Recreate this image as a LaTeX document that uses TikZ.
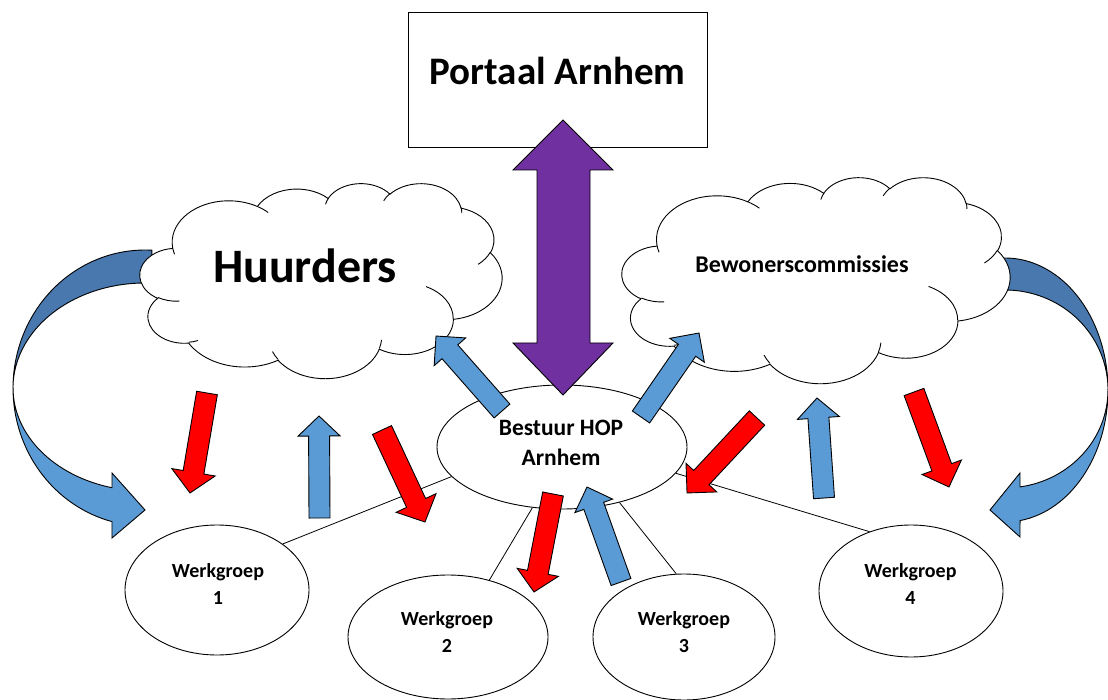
\documentclass[tikz,border=0pt]{standalone}
\usepackage{fontspec}
\setmainfont{Carlito}
\usetikzlibrary{shapes.geometric}
\definecolor{arrred}{HTML}{FF0000}
\definecolor{arrblue}{HTML}{5B9BD5}
\definecolor{arrdark}{HTML}{4878AE}
\definecolor{arrpurple}{HTML}{7030A0}
\newcommand{\blockarr}[8]{%
  \pgfmathsetmacro\BAdx{(#3)-(#1)}%
  \pgfmathsetmacro\BAdy{(#4)-(#2)}%
  \pgfmathsetmacro\BAlen{veclen(\BAdx,\BAdy)}%
  \pgfmathsetmacro\BAang{atan2(-\BAdy,\BAdx)}%
  \pgfmathsetmacro\BAsh{\BAlen-(#7)}%
  \pgfmathsetmacro\BAsw{(#5)/2}%
  \pgfmathsetmacro\BAhw{(#6)/2}%
  \begin{scope}[shift={(#1,#2)},rotate=\BAang]
    \draw[blockline,fill=#8] (0,-\BAsw) -- (\BAsh,-\BAsw) -- (\BAsh,-\BAhw) -- (\BAlen,0) -- (\BAsh,\BAhw) -- (\BAsh,\BAsw) -- (0,\BAsw) -- cycle;
  \end{scope}}
% elliptical arc given by visual start angle and sweep (degrees)
\newcommand\ooarc[4]{%
 \pgfextra{%
  \pgfmathsetmacro\OAa{atan2((#1)*sin(#3),(#2)*cos(#3))}%
  \pgfmathsetmacro\OAe{(#3)+(#4)}%
  \pgfmathsetmacro\OAb{atan2((#1)*sin(\OAe),(#2)*cos(\OAe))}%
  \pgfmathsetmacro\OAb{((#4)>0)*((\OAb<\OAa)*360)+((#4)<0)*((\OAb>\OAa)*(-360))+\OAb}%
 }arc[start angle=\OAa,end angle=\OAb,x radius=#1,y radius=#2]}
% cloud outline in a 432 x 432 box
\newcommand\cloudshape[4]{% x0 y0 w h
 \begin{scope}[shift={(#1,#2)},xscale=#3/432,yscale=#4/432]
  \draw[cloudline,fill=white] (39.00,143.70)
    \ooarc{67.53}{91.90}{-190.4875}{123.7805}
    \ooarc{53.33}{72.67}{-144.1024}{89.9452}
    \ooarc{43.65}{59.45}{-145.8079}{99.7230}
    \ooarc{48.57}{65.95}{-130.9861}{117.2417}
    \ooarc{53.33}{72.73}{-78.7089}{109.0269}
    \ooarc{67.75}{92.20}{-46.2673}{130.2690}
    \ooarc{57.85}{78.67}{0.6250}{114.0333}
    \ooarc{67.52}{92.15}{22.4516}{115.1726}
    \ooarc{77.20}{105.43}{66.2426}{75.7110}
    \ooarc{43.60}{59.18}{-274.9421}{146.7356}
    \ooarc{43.45}{59.45}{-246.8285}{152.5189} -- cycle;
  \draw[cloudline]
    (46.93,261.77) \ooarc{43.45}{59.45}{86.7420}{26.4295}
    (69.28,348.99) \ooarc{43.60}{59.18}{73.6105}{11.4475}
    (164.78,390.90) \ooarc{67.52}{92.15}{137.6242}{14.0811}
    (288.27,347.51) \ooarc{67.52}{92.15}{6.4533}{15.9984}
    (341.29,229.54) \ooarc{57.85}{78.67}{-70.2924}{70.9174}
    (417.98,153.54) \ooarc{53.33}{72.73}{30.3180}{27.7515}
    (383.24,54.26) \ooarc{48.57}{65.95}{-13.7443}{14.8589}
    (290.78,39.52) \ooarc{48.57}{65.95}{-149.1815}{18.1954}
    (221.41,47.20) \ooarc{43.65}{59.45}{-163.4943}{17.6864}
    (140.00,51.92) \ooarc{67.53}{91.90}{-66.7070}{12.3194}
    (41.27,157.89) \ooarc{67.53}{91.90}{157.6544}{11.8582};
 \end{scope}}
\begin{document}
\begin{tikzpicture}[x=1pt,y=-1pt,
  blockline/.style={draw=black,line width=0.9pt,line join=miter},
  cloudline/.style={draw=black,line width=0.9pt},
  oval/.style={ellipse,draw=black,fill=white,line width=0.9pt,inner sep=0pt},
  conn/.style={draw=black,line width=0.8pt},
  wgtext/.style={font=\bfseries\fontsize{20}{27}\selectfont,align=center},
]
\useasboundingbox (0,0) rectangle (1108,700);

% curved arrows (left)
\draw[blockline,fill=arrdark] (145,388) ++(273:132 and 138) arc[start angle=273,end angle=180,x radius=132,y radius=138] arc[start angle=180,end angle=273,x radius=132,y radius=105] -- cycle;
\draw[blockline,fill=arrblue] (13,388) arc[start angle=180,end angle=104.5,x radius=132,y radius=138] -- (112,538) -- (145,510) -- (112,473) -- (112,487.7) arc[start angle=104.5,end angle=180,x radius=132,y radius=103] -- cycle;
% curved arrows (right)
\draw[blockline,fill=arrdark] (1005,390) ++(267:103 and 132) arc[start angle=267,end angle=360,x radius=103,y radius=132] arc[start angle=0,end angle=-93,x radius=103,y radius=100] -- cycle;
\draw[blockline,fill=arrblue] (1108,390) arc[start angle=0,end angle=81.6,x radius=103,y radius=132] -- (1020,537) -- (990,510) -- (1020,473) -- (1020,486.9) arc[start angle=81.6,end angle=0,x radius=103,y radius=98] -- cycle;

% clouds
\cloudshape{140}{183}{362}{195}
\node[font=\bfseries\fontsize{48}{52}\selectfont] (hut) at (305,266) {Huurders};
\cloudshape{622}{177}{388}{206}
\node[font=\bfseries\fontsize{24}{28}\selectfont] (bct) at (802,264) {Bewonerscommissies};

% Portaal box
\node[draw=black,fill=white,line width=0.9pt,minimum width=299pt,minimum height=135pt,inner sep=0pt,
      font=\bfseries\fontsize{39}{44}\selectfont,text height=25pt,text depth=15pt] (pa) at (557.5,79.5) {Portaal Arnhem};

% ovals
\node[oval,minimum width=250pt,minimum height=124pt] (best) at (562,447) {};
\node[oval,minimum width=184pt,minimum height=130pt] (w1) at (217,590) {};
\node[oval,minimum width=200pt,minimum height=124pt] (w2) at (448,637) {};
\node[oval,minimum width=182pt,minimum height=126pt] (w3) at (684,637) {};
\node[oval,minimum width=184pt,minimum height=132pt] (w4) at (911,591) {};

% connectors
\draw[conn] (best.195.5) -- (w1.35);
\draw[conn] (best.244.5) -- (w2.54.6);
\draw[conn] (best.316.4) -- (w3.97);
\draw[conn] (best.347.3) -- (w4.125);

% texts in ovals
\node[font=\bfseries\fontsize{23.5}{30}\selectfont,align=center] (bestt) at (561,443) {Bestuur HOP\\Arnhem};
\node[wgtext] (w1t) at (218,583.5) {Werkgroep\\1};
\node[wgtext] (w2t) at (447,631.5) {Werkgroep\\2};
\node[wgtext] (w3t) at (684,632) {Werkgroep\\3};
\node[wgtext] (w4t) at (910.5,584) {Werkgroep\\4};

% purple double arrow
\draw[blockline,fill=arrpurple] (563,120) -- (613,170) -- (590,170) -- (590,343) -- (613,343) -- (563,395) -- (513,343) -- (537,343) -- (537,170) -- (513,170) -- cycle;

% red arrows
\blockarr{207}{393}{190}{493}{21}{44}{21}{arrred}
\blockarr{382}{430}{425}{522}{21}{44}{21}{arrred}
\blockarr{553}{494}{534}{592}{21}{42}{20}{arrred}
\blockarr{757}{418}{687}{493}{21}{42}{21}{arrred}
\blockarr{914}{392}{949}{487}{21}{42}{21}{arrred}
% blue arrows
\blockarr{319.5}{518}{319}{416}{21}{42}{20}{arrblue}
\blockarr{502}{411}{436}{336}{21}{42}{21}{arrblue}
\blockarr{641}{417}{699}{333}{21}{42}{21}{arrblue}
\blockarr{621}{582}{587}{487}{21}{40}{20}{arrblue}
\blockarr{824}{498}{817}{398}{21}{42}{20}{arrblue}
\end{tikzpicture}
\end{document}
